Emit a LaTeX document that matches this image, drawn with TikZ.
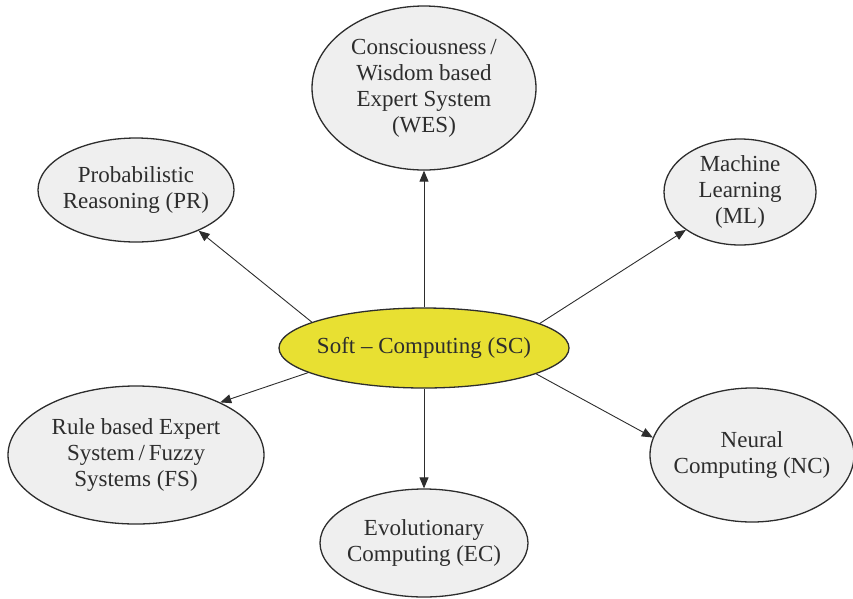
\documentclass[tikz,border=0pt]{standalone}
\usepackage{fontspec}
\setmainfont{Liberation Serif}
\usetikzlibrary{shapes.geometric,arrows.meta}
\definecolor{scyellow}{RGB}{232,224,50}
\definecolor{bubblegray}{RGB}{239,239,239}
\definecolor{inkgray}{RGB}{45,45,45}
\tikzset{
  bubble/.style={ellipse,draw=inkgray,line width=1.3pt,fill=bubblegray,inner sep=-9pt,
    align=center,text=inkgray,font=\fontsize{23}{26}\selectfont},
  link/.style={draw=inkgray,line width=0.9pt,-{Triangle[length=11pt,width=9pt]}}
}

\begin{document}
\begin{tikzpicture}[x=1pt,y=-1pt]
    \useasboundingbox (0,0) rectangle (853,598);

    \node[bubble,fill=scyellow,minimum width=290pt,minimum height=80pt] (sc) at (424,348) {Soft -- Computing (SC)};

    \node[bubble,minimum width=224pt,minimum height=164pt] (wes) at (424,88)
        {Consciousness\,/\\Wisdom based\\Expert System\\(WES)};
    \node[bubble,minimum width=196pt,minimum height=104pt] (pr) at (136,190)
        {Probabilistic\\Reasoning (PR)};
    \node[bubble,minimum width=152pt,minimum height=106pt] (ml) at (740,192)
        {Machine\\Learning\\(ML)};
    \node[bubble,minimum width=256pt,minimum height=138pt] (fs) at (136,455)
        {Rule based Expert\\System\,/\,Fuzzy\\Systems (FS)};
    \node[bubble,minimum width=208pt,minimum height=108pt] (ec) at (424,543)
        {Evolutionary\\Computing (EC)};
    \node[bubble,minimum width=204pt,minimum height=134pt] (nc) at (752,455)
        {Neural\\Computing (NC)};

    \draw[link] (sc.90) -- (wes.-90);
    \draw[link] (sc.167.6) -- (pr.-33);
    \draw[link] (sc.12.5) -- (ml.-145);
    \draw[link] (sc.192) -- (fs.32);
    \draw[link] (sc.-90) -- (ec.90);
    \draw[link] (sc.-13.6) -- (nc.170);
\end{tikzpicture}
\end{document}
